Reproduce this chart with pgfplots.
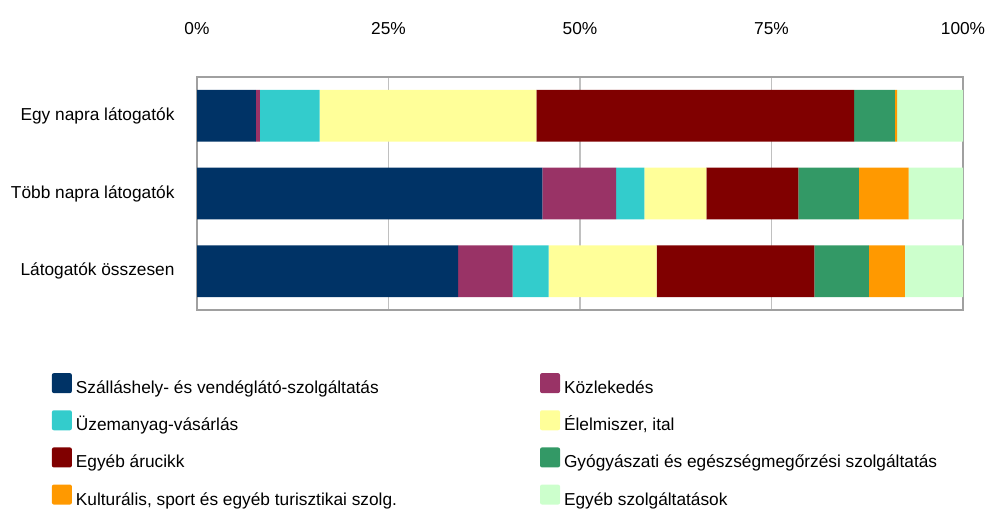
\documentclass[border=0pt]{standalone}
\usepackage{pgfplots}
\pgfplotsset{compat=1.18}
\usepackage{pgfplotstable}
\usepackage{fontspec}
\setmainfont{Liberation Sans}
\definecolor{cBlue}{HTML}{003366}
\definecolor{cMag}{HTML}{993366}
\definecolor{cCyan}{HTML}{33CCCC}
\definecolor{cYel}{HTML}{FFFF99}
\definecolor{cRed}{HTML}{800000}
\definecolor{cGreen}{HTML}{339966}
\definecolor{cOrange}{HTML}{FF9900}
\definecolor{cLGreen}{HTML}{CCFFCC}
\definecolor{frameGray}{HTML}{A0A0A0}
\definecolor{gridGray}{HTML}{C0C0C0}

\pgfplotstableread{
y szallas kozl uzem elelm arucikk gyogy kult egyeb
0 7.7 0.5 7.8 28.3 41.5 5.3 0.3 8.6
1 45.1 9.6 3.7 8.1 12.0 7.9 6.5 7.1
2 34.1 7.1 4.7 14.1 20.6 7.1 4.7 7.6
}\datatable

\begin{document}
\begin{tikzpicture}[font=\fontsize{17.3}{20}\selectfont]
\useasboundingbox (0,0) rectangle (987pt,509pt);
\begin{axis}[
  at={(197pt,199pt)}, anchor=south west,
  scale only axis, width=766pt, height=233pt,
  xbar stacked, bar width=0.667,
  xmin=0, xmax=100, ymin=-0.5, ymax=2.5, y dir=reverse,
  ytick={0,1,2},
  yticklabels={Egy napra látogatók, Több napra látogatók, Látogatók összesen},
  xtick={0,25,50,75,100},
  xticklabels={0\%,25\%,50\%,75\%,100\%},
  xticklabel pos=upper,
  major tick length=0pt,
  xmajorgrids,
  grid style={line width=1.2pt, color=gridGray},
  axis line style={line width=1.5pt, color=frameGray},
  /pgf/number format/assume math mode=true,
  xticklabel style={yshift=39pt, text=black},
  yticklabel style={xshift=-19pt, text=black},
  axis on top=false,
  legend columns=2,
  legend cell align=left,
  legend image code/.code={\fill[#1, draw=none, rounded corners=2pt] (0pt,-3.7pt) rectangle (20pt,16.3pt);},
  legend style={
    at={(-0.1897,-0.270)}, anchor=north west,
    draw=none, fill=none, inner sep=0pt,
    row sep=10.6pt,
    /tikz/column 1/.style={column sep=2pt},
    /tikz/column 2/.style={column sep=141pt},
    /tikz/column 3/.style={column sep=2pt},
    nodes={text height=12.5pt, text depth=4pt},
  },
]
\addplot[fill=cBlue, draw=none] table[x=szallas, y=y] \datatable;
\addplot[fill=cMag, draw=none] table[x=kozl, y=y] \datatable;
\addplot[fill=cCyan, draw=none] table[x=uzem, y=y] \datatable;
\addplot[fill=cYel, draw=none] table[x=elelm, y=y] \datatable;
\addplot[fill=cRed, draw=none] table[x=arucikk, y=y] \datatable;
\addplot[fill=cGreen, draw=none] table[x=gyogy, y=y] \datatable;
\addplot[fill=cOrange, draw=none] table[x=kult, y=y] \datatable;
\addplot[fill=cLGreen, draw=none] table[x=egyeb, y=y] \datatable;
\legend{Szálláshely- és vendéglátó-szolgáltatás, Közlekedés,
  Üzemanyag-vásárlás, {Élelmiszer, ital},
  Egyéb árucikk, Gyógyászati és egészségmegőrzési szolgáltatás,
  {Kulturális, sport és egyéb turisztikai szolg.}, Egyéb szolgáltatások}
\end{axis}
\end{tikzpicture}
\end{document}
